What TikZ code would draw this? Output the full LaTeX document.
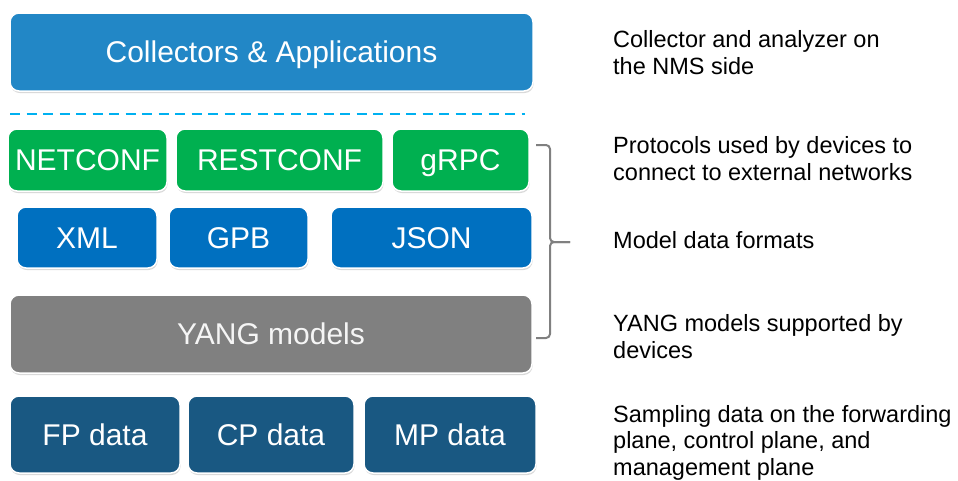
\documentclass[tikz,border=0pt]{standalone}
\usepackage{fontspec}
\setmainfont{Liberation Sans}
\usepackage{tikz}
\usetikzlibrary{shadows}
\definecolor{appblue}{RGB}{34,135,198}
\definecolor{dashblue}{RGB}{0,176,240}
\definecolor{protgreen}{RGB}{0,176,80}
\definecolor{fmtblue}{RGB}{0,112,192}
\definecolor{yanggray}{RGB}{128,128,128}
\definecolor{datablue}{RGB}{25,88,130}
\tikzset{
  lay/.style={draw=white, line width=1.5pt, rounded corners=9pt, text=white,
    inner sep=0pt, text height=21.5pt, text depth=0pt,
    font=\fontsize{30}{36}\selectfont,
    drop shadow={shadow xshift=0.6pt, shadow yshift=-2pt, opacity=0.3}},
  note/.style={anchor=base west, align=left, inner sep=0pt,
    font=\fontsize{23.5}{26.5}\selectfont},
  brk/.style={draw=yanggray, line width=2pt, rounded corners=4pt}}
% one layer box: name, x1, y1, x2, y2, fill, text
\newcommand{\lbox}[7]{%
  \node[lay, fill=#6, minimum width={#4-#2}, minimum height={#5-#3}]
    (#1) at ({(#2+#4)/2},{(#3+#5)/2}) {#7};}
% side note, placed by the baseline of its last line
\newcommand{\lnote}[3]{\node[note] (#1) at (613,#2) {#3};}

\begin{document}
\begin{tikzpicture}[x=1pt,y=-1pt]
  \useasboundingbox (0,0) rectangle (958,480);
  \lbox{apps}{10}{13}{533}{91}{appblue}{Collectors \& Applications}
  \draw[dashblue, line width=2.5pt, dash pattern=on 10pt off 6.5pt] (10,114) -- (525,114);
  \foreach \nm/\xa/\xb/\txt in {netconf/8/167/NETCONF, restconf/176/383/RESTCONF, grpc/392/529/gRPC}
    {\lbox{\nm}{\xa}{129}{\xb}{191}{protgreen}{\txt}}
  \foreach \nm/\xa/\xb/\txt in {xml/17/157/XML, gpb/169/308/GPB, json/331/532/JSON}
    {\lbox{\nm}{\xa}{207}{\xb}{268}{fmtblue}{\txt}}
  \lbox{yang}{10}{295}{532}{373}{yanggray}{\color{white!92!gray}YANG models}
  \foreach \nm/\xa/\xb/\txt in {fp/10/180/FP data, cp/188/354/CP data, mp/364/536/MP data}
    {\lbox{\nm}{\xa}{396}{\xb}{473}{datablue}{\txt}}
  % bracket
  \coordinate (brtop) at (536,145);
  \coordinate (brbot) at (536,338);
  \coordinate (brtip) at (570,242);
  \draw[brk] (brtop) -| (550,242) -- (brtip);
  \draw[brk] (brbot) -| (550,242) -- (brtip);
  % notes
  \lnote{nms}{74}{Collector and analyzer on\\the NMS side}
  \lnote{proto}{180}{Protocols used by devices to\\connect to external networks}
  \lnote{fmt}{248}{Model data formats}
  \lnote{ymod}{358}{YANG models supported by\\devices}
  \lnote{samp}{475}{Sampling data on the forwarding\\plane, control plane, and\\management plane}
\end{tikzpicture}
\end{document}
